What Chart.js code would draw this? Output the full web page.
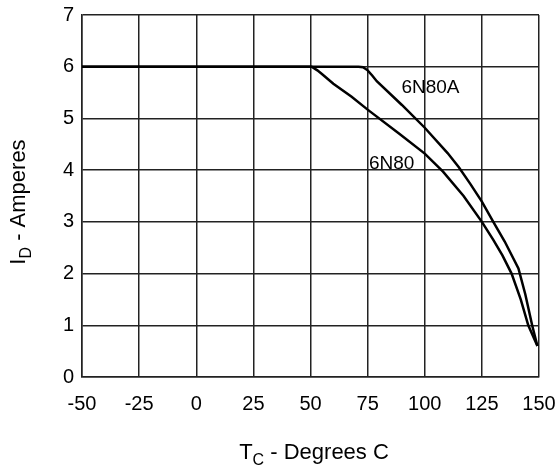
<!DOCTYPE html>
<html>
<head>
<meta charset="utf-8">
<script src="https://cdn.jsdelivr.net/npm/chart.js@4"></script>
<style>
  html, body { margin: 0; padding: 0; background: #fff; }
  #wrap { width: 559px; height: 465px; }
</style>
</head>
<body>
<div id="wrap"><canvas id="derating"></canvas></div>
<script>
// drain current vs case temperature
const tempA = [-50, 71, 73, 75, 77, 79, 90, 100, 110, 115, 120, 125, 130, 135, 141, 144, 147, 149.3];
const currentA = [6, 6, 5.99, 5.93, 5.83, 5.72, 5.26, 4.82, 4.33, 4.05, 3.73, 3.39, 3.0, 2.62, 2.1, 1.6, 1.0, 0.6];
const temp = [-50, 50.5, 53, 55, 60, 68, 75, 89, 100, 108, 117, 125, 130, 134, 138, 142, 145.3, 149.3];
const current = [6, 6, 5.93, 5.86, 5.67, 5.42, 5.17, 4.7, 4.32, 3.97, 3.5, 3.0, 2.65, 2.35, 2.0, 1.5, 1.0, 0.6];
const xTicks = [-50, -25, 0, 25, 50, 75, 100, 125, 150];
const yTicks = [0, 1, 2, 3, 4, 5, 6, 7];
const curveNames = ["6N80A", "6N80"];

const FONT = "Arial, 'Liberation Sans', sans-serif";

const toPts = (xs, ys) => xs.map((x, i) => ({ x: x, y: ys[i] }));

// draws "main + subscript + rest" centred on cx, on the baseline
function subText(ctx, parts, cx, by) {
  let w = 0;
  parts.forEach(p => { ctx.font = p[1]; w += ctx.measureText(p[0]).width; });
  cx -= w / 2;
  parts.forEach(p => {
    ctx.font = p[1];
    ctx.fillText(p[0], cx, by + p[2]);
    cx += ctx.measureText(p[0]).width;
  });
}

// axis titles with subscripts + curve labels
const textPlugin = {
  id: "texts",
  afterDraw(chart) {
    const ctx = chart.ctx;
    const xs = chart.scales.x, ys = chart.scales.y;
    ctx.save();
    ctx.fillStyle = "#000";

    // curve labels
    ctx.font = "19px " + FONT;
    ctx.textBaseline = "middle";
    ctx.textAlign = "center";
    ctx.fillText(curveNames[0], xs.getPixelForValue(102.5), ys.getPixelForValue(5.6));
    ctx.fillText(curveNames[1], xs.getPixelForValue(85.5), ys.getPixelForValue(4.12));

    // x title
    ctx.textBaseline = "alphabetic";
    ctx.textAlign = "left";
    const big = "22px " + FONT, small = "16px " + FONT;
    subText(ctx, [["T", big, 0], ["C", small, 6], [" - Degrees C", big, 0]], 314, 459);

    // y title
    ctx.translate(25, 202);
    ctx.rotate(-Math.PI / 2);
    subText(ctx, [["I", big, 0], ["D", small, 6], [" - Amperes", big, 0]], 0, 0);
    ctx.restore();
  }
};

new Chart(document.getElementById("derating").getContext("2d"), {
  type: "line",
  data: {
    datasets: [
      {
        label: curveNames[0],
        data: toPts(tempA, currentA),
        borderColor: "#000",
        borderWidth: 2.5,
        pointRadius: 0,
        tension: 0,
        fill: false
      },
      {
        label: curveNames[1],
        data: toPts(temp, current),
        borderColor: "#000",
        borderWidth: 2.5,
        pointRadius: 0,
        tension: 0,
        fill: false
      }
    ]
  },
  options: {
    responsive: true,
    maintainAspectRatio: false,
    animation: false,
    layout: { padding: { top: 15, right: 20, left: 0, bottom: 0 } },
    plugins: { legend: { display: false }, tooltip: { enabled: false } },
    scales: {
      x: {
        type: "linear",
        min: -50,
        max: 150,
        afterBuildTicks: s => { s.ticks = xTicks.map(v => ({ value: v })); },
        afterFit: s => { s.height = 88; s.paddingLeft = 0; s.paddingRight = 0; },
        ticks: { color: "#000", font: { size: 20, family: FONT }, padding: 15, maxRotation: 0 },
        grid: { color: "#222", lineWidth: 1.5, drawTicks: false },
        border: { color: "#222", width: 1.5 }
      },
      y: {
        min: 0,
        max: 7,
        afterBuildTicks: s => { s.ticks = yTicks.map(v => ({ value: v })); },
        afterFit: s => { s.width = 82; s.paddingTop = 0; s.paddingBottom = 0; },
        ticks: { color: "#000", font: { size: 20, family: FONT }, padding: 8 },
        grid: { color: "#222", lineWidth: 1.5, drawTicks: false },
        border: { color: "#222", width: 1.5 }
      }
    }
  },
  plugins: [textPlugin]
});
</script>
</body>
</html>
